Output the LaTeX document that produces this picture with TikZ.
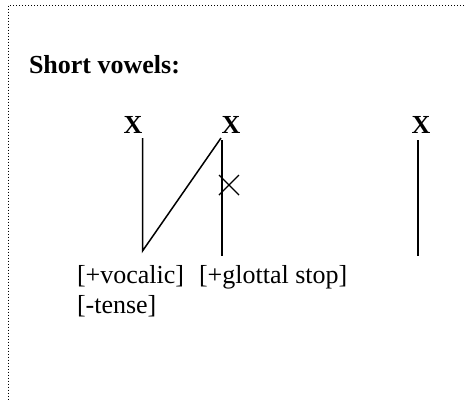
\documentclass[tikz,border=0pt]{standalone}
\usepackage{fontspec}
\setmainfont{Liberation Serif}
\usetikzlibrary{calc}
\begin{document}
\begin{tikzpicture}[x=1pt,y=1pt,
  txt/.style={inner sep=0pt,outer sep=0pt,anchor=base west,font=\fontsize{26}{30}\selectfont},
  skel/.style={inner sep=0pt,outer sep=0pt,anchor=base,font=\fontsize{26}{30}\selectfont\bfseries},
  assoc/.style={line width=1.5pt},
  border/.style={line width=1pt,dash pattern=on 1pt off 2pt}]
\useasboundingbox (0,0) rectangle (466,-400);
\begin{scope}
\clip (0,0) rectangle (466,-400);
\draw[border] (8.5,-5.5) rectangle (500,-430);
\end{scope}
\node[txt,font=\fontsize{26}{30}\selectfont\bfseries] (title) at (29,-73) {Short vowels:};
\node[skel] (x1) at (133,-133) {X};
\node[skel] (x2) at (231,-133) {X};
\node[skel] (x3) at (421,-133) {X};
\coordinate (a1) at (142.5,-138);
\coordinate (b1) at (142.5,-251);
\coordinate (a2) at (221,-138);
\coordinate (c2) at (222,-140);
\coordinate (b2) at (222,-256);
\coordinate (a3) at (418,-140);
\coordinate (b3) at (418,-256);
\draw[assoc] (a1) -- (b1) -- (a2);
\draw[assoc] (c2) -- (b2);
\draw[assoc] (a3) -- (b3);
\coordinate (k) at (229,-185);
\draw[line width=1.4pt] ($(k)+(-10,-10)$) -- ($(k)+(10,10)$);
\draw[line width=1.4pt] ($(k)+(-10,10)$) -- ($(k)+(10,-10)$);
\node[txt] (voc) at (77,-283) {[+vocalic]};
\node[txt] (glo) at (199,-283) {[+glottal stop]};
\node[txt] (ten) at (77,-313) {[-tense]};
\end{tikzpicture}
\end{document}
